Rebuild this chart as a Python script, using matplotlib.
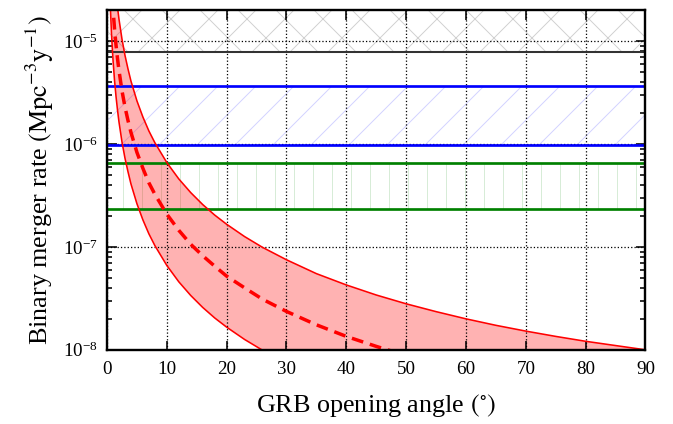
import numpy as np
import matplotlib.pyplot as plt

plt.rcParams['font.family'] = ['Liberation Serif', 'DejaVu Serif']
plt.rcParams['mathtext.fontset'] = 'stix'
plt.rcParams['hatch.linewidth'] = 0.6

# GRB opening angle (deg) and merger rates (Mpc^-3 y^-1)
theta = [0.5, 0.75, 1, 1.25, 1.5, 1.75, 2, 2.5, 3, 3.5, 4, 5, 6, 7, 8, 10, 12,
         14, 16, 18, 20, 23, 26, 30, 35, 40, 45, 50, 55, 60, 65, 70, 75, 80,
         85, 90]
rate_hi = [2.6e-4, 1.17e-4, 6.6e-5, 4.2e-5, 2.92e-5, 2.15e-5, 1.64e-5, 1.05e-5,
           7.3e-6, 5.4e-6, 4.1e-6, 2.63e-6, 1.83e-6, 1.34e-6, 1.03e-6, 6.6e-7,
           4.58e-7, 3.37e-7, 2.58e-7, 2.04e-7, 1.66e-7, 1.26e-7, 9.9e-8, 7.5e-8,
           5.5e-8, 4.27e-8, 3.41e-8, 2.80e-8, 2.35e-8, 2.0e-8, 1.73e-8, 1.52e-8,
           1.35e-8, 1.21e-8, 1.10e-8, 1.0e-8]
rate_mid = [8.3e-5, 3.7e-5, 2.08e-5, 1.33e-5, 9.2e-6, 6.8e-6, 5.2e-6, 3.3e-6,
            2.3e-6, 1.70e-6, 1.30e-6, 8.3e-7, 5.8e-7, 4.2e-7, 3.25e-7, 2.08e-7,
            1.45e-7, 1.06e-7, 8.2e-8, 6.5e-8, 5.2e-8, 4.0e-8, 3.1e-8, 2.36e-8,
            1.75e-8, 1.35e-8, 1.08e-8, 8.8e-9, 7.4e-9, 6.3e-9, 5.5e-9, 4.8e-9,
            4.3e-9, 3.8e-9, 3.5e-9, 3.16e-9]
rate_lo = [2.6e-5, 1.17e-5, 6.6e-6, 4.2e-6, 2.92e-6, 2.15e-6, 1.64e-6, 1.05e-6,
           7.3e-7, 5.4e-7, 4.1e-7, 2.63e-7, 1.83e-7, 1.34e-7, 1.03e-7, 6.6e-8,
           4.58e-8, 3.37e-8, 2.58e-8, 2.04e-8, 1.66e-8, 1.26e-8, 9.9e-9, 7.5e-9,
           5.5e-9, 4.27e-9, 3.41e-9, 2.80e-9, 2.35e-9, 2.0e-9, 1.73e-9, 1.52e-9,
           1.35e-9, 1.21e-9, 1.10e-9, 1.0e-9]

# horizontal limits
limit_gray = 7.9e-6
band_blue = [9.8e-7, 3.7e-6]
band_green = [2.35e-7, 6.6e-7]
ymin, ymax = 1e-8, 2.0e-5

fig = plt.figure(figsize=(673/114., 424/114.), dpi=114)
ax = fig.add_axes([0.159, 0.175, 0.800, 0.801])

ax.axhspan(limit_gray, ymax, fill=False, hatch='x', edgecolor='#d0d0d0', lw=0)
ax.axhspan(band_blue[0], band_blue[1], fill=False, hatch='/', edgecolor='#d2d2ff', lw=0)
ax.axhspan(band_green[0], band_green[1], fill=False, hatch='|', edgecolor='#d6ecd6', lw=0)

ax.axhline(limit_gray, color='0.2', lw=1.3)
for v in band_blue:
    ax.axhline(v, color='b', lw=1.7)
for v in band_green:
    ax.axhline(v, color='g', lw=1.7)

ax.fill_between(theta, rate_lo, rate_hi, color='r', alpha=0.3, lw=0)
ax.plot(theta, rate_hi, 'r-', lw=1.0)
ax.plot(theta, rate_lo, 'r-', lw=1.0)
ax.plot(theta, rate_mid, 'r--', lw=2.2, dashes=(3.4, 2.0))

ax.set_yscale('log')
ax.set_xlim(0, 90)
ax.set_ylim(ymin, ymax)
ax.set_xticks(np.arange(0, 91, 10))
ax.grid(True, which='major', color='k', linestyle=':', lw=0.8)
ax.tick_params(which='both', direction='in', top=True, right=True, labelsize=12)
ax.tick_params(which='major', length=6, width=1)
ax.tick_params(which='minor', length=3, width=1)
ax.tick_params(axis='x', pad=7)
ax.tick_params(axis='y', pad=6)
for s in ax.spines.values():
    s.set_linewidth(1.5)

ax.set_xlabel(r'GRB opening angle $(^{\circ})$', fontsize=16.5, labelpad=9)
ax.set_ylabel(r'Binary merger rate $(\mathrm{Mpc}^{-3}\mathrm{y}^{-1})$', fontsize=16.5,
              labelpad=4)

fig.savefig('out.png', dpi=114)
